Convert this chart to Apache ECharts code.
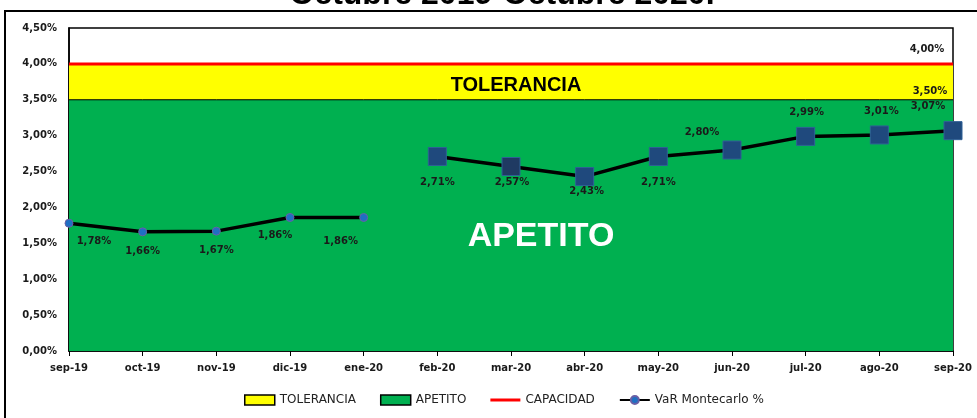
<!DOCTYPE html>
<html><head><meta charset="utf-8">
<script src="https://cdn.jsdelivr.net/npm/echarts@6/dist/echarts.min.js"></script>
<style>html,body{margin:0;padding:0;background:#fff}#c{width:977px;height:418px}</style>
</head><body><div id="c"></div>
<script>
// ---- data ----
const categories = ['sep-19','oct-19','nov-19','dic-19','ene-20','feb-20','mar-20','abr-20','may-20','jun-20','jul-20','ago-20','sep-20'];
const varEarly = [1.78, 1.66, 1.67, 1.86, 1.86, null, null, null, null, null, null, null, null];
const varLate  = [null, null, null, null, null, 2.71, 2.57, 2.43, 2.71, 2.80, 2.99, 3.01, 3.07];
const apetito    = [3.5, 3.5, 3.5, 3.5, 3.5, 3.5, 3.5, 3.5, 3.5, 3.5, 3.5, 3.5, 3.5];
const tolerancia = [4.0, 4.0, 4.0, 4.0, 4.0, 4.0, 4.0, 4.0, 4.0, 4.0, 4.0, 4.0, 4.0];
const capacidad  = [4.0, 4.0, 4.0, 4.0, 4.0, 4.0, 4.0, 4.0, 4.0, 4.0, 4.0, 4.0, 4.0];
const yTickLabels = ['0,00%','0,50%','1,00%','1,50%','2,00%','2,50%','3,00%','3,50%','4,00%','4,50%'];
const titleText = 'Octubre 2019-Octubre 2020.';

// ---- styling (label offsets) ----
const earlyOffsets = [[25,18],[0,20],[0,19],[-15,18],[-23,24]];
const lateOffsets  = [[0,26],[1,16],[2,15],[0,26],[-30,-18],[1,-24],[2,-24],[-25,-24]];

const pct = v => v.toFixed(2).replace('.', ',') + '%';
const lblFont = {fontFamily:'DejaVu Sans', fontWeight:'bold', fontSize:10, color:'#1a1a1a'};

function withLabels(arr, offsets, startIdx, extra) {
  return arr.map((v, i) => {
    if (v == null) return null;
    const o = offsets[i - startIdx];
    const item = {value: v, label: Object.assign({show:true, position:'inside', offset:o, formatter: p => pct(p.value)}, lblFont)};
    if (extra && extra[i]) Object.assign(item, extra[i]);
    return item;
  });
}
function lastLabel(arr, offset) {
  return arr.map((v, i) => i === arr.length - 1
    ? {value: v, label: Object.assign({show:true, position:'inside', offset: offset, formatter: p => pct(p.value)}, lblFont)}
    : v);
}

const chart = echarts.init(document.getElementById('c'), null, {renderer:'canvas'});
chart.setOption({
  animation: false,
  backgroundColor: '#ffffff',
  grid: {left:69, right:24, top:28, bottom:67, show:true, borderColor:'#000', borderWidth:1.5, backgroundColor:'transparent'},
  xAxis: {
    type:'category', data: categories, boundaryGap:false,
    axisLine:{show:true, lineStyle:{color:'#000', width:1.5}},
    axisTick:{show:true, alignWithLabel:true, length:5, lineStyle:{color:'#000'}},
    axisLabel:{margin:12, fontFamily:'DejaVu Sans', fontWeight:'bold', fontSize:10, color:'#1a1a1a'},
    splitLine:{show:false}
  },
  yAxis: {
    type:'value', min:0, max:4.5, interval:0.5,
    axisLine:{show:true, lineStyle:{color:'#000', width:1.5}},
    axisTick:{show:false},
    splitLine:{show:false},
    axisLabel:{margin:12, fontFamily:'DejaVu Sans', fontWeight:'bold', fontSize:10, color:'#1a1a1a',
      formatter: v => yTickLabels[Math.round(v / 0.5)]}
  },
  legend: {
    left: 239, top: 389, itemGap: 24, itemWidth: 30, itemHeight: 10,
    textStyle: {fontFamily:'DejaVu Sans', fontSize:12, color:'#222'},
    data: [
      {name:'TOLERANCIA', icon:'rect', itemStyle:{color:'#ffff00', borderColor:'#000', borderWidth:1.5}},
      {name:'APETITO', icon:'rect', itemStyle:{color:'#00b050', borderColor:'#000', borderWidth:1.5}},
      {name:'CAPACIDAD', icon:'path://M0,0L0,0M0,3.5L30,3.5L30,6.5L0,6.5ZM30,10L30,10', itemStyle:{color:'#ff0000', borderWidth:0}},
      {name:'VaR Montecarlo %'}
    ]
  },
  series: [
    {name:'TOLERANCIA', type:'line', data: lastLabel(tolerancia, [-26,-14]), symbol:'circle', symbolSize:1, showSymbol:true, silent:true,
     lineStyle:{width:0, color:'#ffff00'}, itemStyle:{color:'rgba(0,0,0,0)'},
     areaStyle:{color:'#ffff00', opacity:1}, z:1},
    {name:'APETITO', type:'line', data: lastLabel(apetito, [-23,-8]), symbol:'circle', symbolSize:1, showSymbol:true, silent:true,
     lineStyle:{width:1, color:'#000'}, itemStyle:{color:'rgba(0,0,0,0)'},
     areaStyle:{color:'#00b050', opacity:1}, z:2},
    {name:'CAPACIDAD', type:'line', data: capacidad, symbol:'none',
     lineStyle:{width:3, color:'#ff0000'}, itemStyle:{color:'#ff0000'}, z:3},
    {name:'VaR Montecarlo %', type:'line', data: withLabels(varEarly, earlyOffsets, 0), symbol:'circle', symbolSize:8,
     lineStyle:{width:3.5, color:'#000'}, itemStyle:{color:'#1f6fc3', borderColor:'#6a5fa5', borderWidth:1}, z:4},
    {name:'VaR Montecarlo %', type:'line', data: withLabels(varLate, lateOffsets, 5, {6:{itemStyle:{color:'#1f3a62'}}}), symbol:'rect', symbolSize:18,
     lineStyle:{width:3.5, color:'#000'}, itemStyle:{color:'#1f497d', borderColor:'#2f6096', borderWidth:1}, z:4}
  ],
  graphic: [
    {type:'rect', shape:{x:5, y:11, width:1000, height:500}, style:{fill:'none', stroke:'#000', lineWidth:2}, z:100, silent:true},
    {type:'text', x:502, y:-5, style:{text:titleText, font:'bold 32px "Liberation Sans", Arial, sans-serif', fill:'#000', align:'center', verticalAlign:'middle'}, z:100},
    {type:'text', x:516, y:85, style:{text:'TOLERANCIA', font:'bold 20px "Liberation Sans", Arial, sans-serif', fill:'#000', align:'center', verticalAlign:'middle'}, z:50},
    {type:'text', x:541, y:237, style:{text:'APETITO', font:'bold 34px "Liberation Sans", Arial, sans-serif', fill:'#fff', align:'center', verticalAlign:'middle'}, z:50}
  ]
});
</script>
</body></html>
